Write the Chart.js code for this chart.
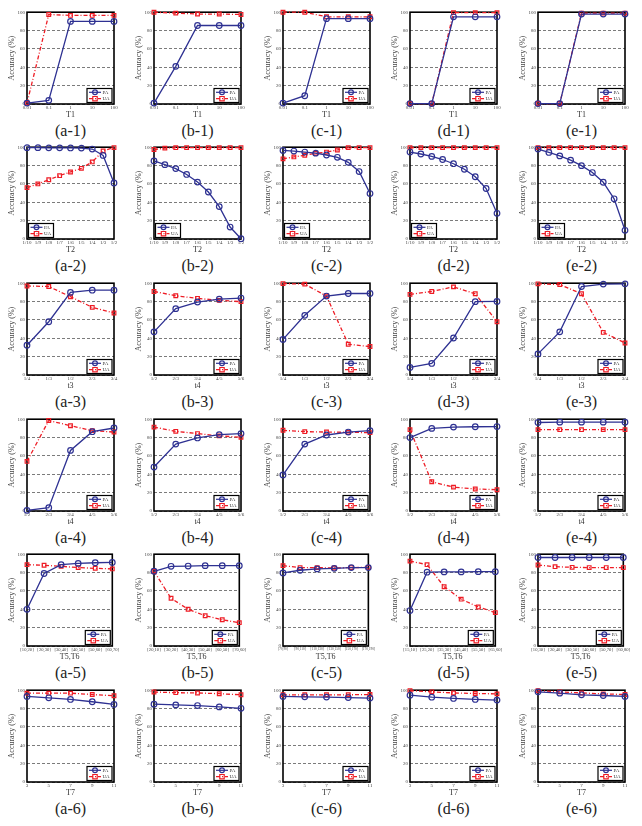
<!DOCTYPE html>
<html>
<head>
<meta charset="utf-8">
<script src="https://cdn.jsdelivr.net/npm/chart.js@4"></script>
<style>
  html, body { margin: 0; padding: 0; background: #fff; }
  body { position: relative; width: 642px; height: 826px; overflow: hidden; }
  .cell { position: absolute; }
  .cap { position: absolute; width: 100px; text-align: center; font: 16px "Liberation Serif", serif; color: #222; line-height: 18px; }
</style>
</head>
<body>
<script>
// Categories (x tick labels)
const CAT_T1 = ['0.01', '0.1', '1', '10', '100'];
const CAT_T2 = ['1/10', '1/9', '1/8', '1/7', '1/6', '1/5', '1/4', '1/3', '1/2'];
const CAT_T3 = ['1/4', '1/3', '1/2', '2/3', '3/4'];
const CAT_T4 = ['1/2', '2/3', '3/4', '4/5', '5/6'];
const CAT_T56_A = ['[10,20]', '[20,30]', '[30,40]', '[40,50]', '[50,60]', '[60,70]'];
const CAT_T56_B = ['[20,10]', '[30,20]', '[40,30]', '[50,40]', '[60,50]', '[70,60]'];
const CAT_T56_C = ['[70,90]', '[90,110]', '[110,130]', '[130,150]', '[150,170]', '[170,190]'];
const CAT_T56_D = ['[15,10]', '[25,20]', '[35,30]', '[45,40]', '[55,50]', '[65,60]'];
const CAT_T56_E = ['[10,30]', '[20,40]', '[30,50]', '[40,60]', '[50,70]', '[60,80]'];
const CAT_T7 = ['3', '5', '7', '9', '11'];

// Row 1 (T1)
const PA_A1 = [1, 4, 90, 90, 90];
const UA_A1 = [1, 97.5, 96.5, 96.5, 96.5];
const PA_B1 = [1, 41, 85.5, 85.5, 85.5];
const UA_B1 = [100, 99, 98, 98, 97.5];
const PA_C1 = [1, 9, 93, 93, 93];
const UA_C1 = [100, 100, 95, 95, 95];
const PA_D1 = [0.5, 0.5, 95, 95, 95];
const UA_D1 = [0.5, 0.5, 99.5, 99.5, 99.5];
const PA_E1 = [0.5, 0.5, 98, 98, 98];
const UA_E1 = [0.5, 0.5, 99, 99, 99];

// Row 2 (T2)
const PA_A2 = [99.5, 99.5, 99.3, 99.3, 99.2, 99, 98, 91, 61];
const UA_A2 = [56, 60, 64.5, 69, 73, 77, 84, 96, 99.6];
const PA_B2 = [85, 81, 76.7, 70.3, 62, 51.2, 35.3, 13, 0.3];
const UA_B2 = [97.5, 99, 99.5, 99.6, 99.6, 99.6, 99.6, 99.6, 99.6];
const PA_C2 = [96.5, 95.8, 94.7, 93.5, 91.5, 89, 83.5, 73.5, 49.5];
const UA_C2 = [87.3, 89.4, 91.2, 93.3, 94.7, 97, 99.6, 99.6, 99.6];
const PA_D2 = [94.7, 92.6, 90, 86.6, 82, 76, 67.8, 55, 28];
const UA_D2 = [99.6, 99.6, 99.6, 99.6, 99.6, 99.6, 99.6, 99.6, 99.6];
const PA_E2 = [98, 94.3, 90.5, 85.9, 79.9, 72.4, 61.8, 43.8, 9.5];
const UA_E2 = [99.6, 99.6, 99.6, 99.6, 99.6, 99.6, 99.6, 99.6, 99.6];

// Row 3 (t3 / t4)
const PA_A3 = [32.4, 58, 90, 92.4, 92.4];
const UA_A3 = [97, 96.4, 85.3, 73.7, 67.6];
const PA_B3 = [47, 72.3, 79.5, 82.7, 83.8];
const UA_B3 = [91, 86.3, 83.5, 81.3, 79.9];
const PA_C3 = [38.8, 65, 86, 88.8, 88.8];
const UA_C3 = [99.6, 99, 86, 33.5, 31];
const PA_D3 = [8.3, 12.6, 40.3, 79.9, 80.2];
const UA_D3 = [87.8, 91, 96, 88.5, 58];
const PA_E3 = [23, 47, 96.4, 99, 99.3];
const UA_E3 = [99.3, 98.6, 88.5, 46.4, 34.9];

// Row 4 (t4)
const PA_A4 = [0.7, 3.6, 66, 86.4, 90.4];
const UA_A4 = [54, 98.6, 92.9, 87.5, 86];
const PA_B4 = [47.9, 72.9, 79.6, 83.2, 84.3];
const UA_B4 = [91.4, 86.8, 84.3, 81.8, 80.4];
const PA_C4 = [39.3, 72.9, 82.8, 86, 87.5];
const UA_C4 = [87.9, 86.4, 86, 85.7, 85.4];
const PA_D4 = [80, 90, 91.4, 91.8, 92];
const UA_D4 = [88.6, 31.8, 26, 24, 23.2];
const PA_E4 = [96.4, 96.8, 96.8, 96.8, 96.8];
const UA_E4 = [88.6, 88.6, 88.6, 88.6, 88.6];

// Row 5 (T5,T6)
const PA_A5 = [40, 79, 88.6, 90, 90.7, 91];
const UA_A5 = [88.6, 87.9, 86.8, 85.4, 84.6, 84];
const PA_B5 = [81.4, 86.8, 87.1, 87.5, 87.5, 87.5];
const UA_B5 = [81.4, 52, 40, 33, 28.6, 25.4];
const PA_C5 = [79.6, 82.5, 84, 84.6, 85.4, 85.4];
const UA_C5 = [87.5, 85.4, 85.4, 85, 85.4, 85.7];
const PA_D5 = [38.6, 80.4, 80.7, 80.7, 81, 81];
const UA_D5 = [92.5, 88.6, 64.6, 51, 42.5, 36.4];
const PA_E5 = [96.4, 96.4, 96.4, 96.4, 96.4, 96.4];
const UA_E5 = [88.2, 86.4, 85.7, 85.4, 85.4, 85.4];

// Row 6 (T7)
const PA_A6 = [93.2, 91.7, 89.9, 87.4, 84.5];
const UA_A6 = [96.8, 96.8, 96.8, 95.3, 93.9];
const PA_B6 = [84.8, 84, 83.3, 81.8, 80.3];
const UA_B6 = [98, 97.3, 97, 96.2, 95];
const PA_C6 = [93.2, 92.8, 92.5, 92, 91.4];
const UA_C6 = [95, 95, 95, 95, 95.3];
const PA_D6 = [94.6, 92.4, 91, 89.9, 89.2];
const UA_D6 = [99.6, 98.2, 97, 96.4, 96];
const PA_E6 = [98.2, 96.8, 95, 94.2, 93.2];
const UA_E6 = [99.6, 98.2, 97, 96, 95.3];

const SERIES_NAMES = ['PA', 'UA'];
const Y_MIN = 0, Y_MAX = 100, Y_STEP = 20;

// panels, row by row
const panels = [
  ['a-1', CAT_T1, 'T1', PA_A1, UA_A1, 'br'], ['b-1', CAT_T1, 'T1', PA_B1, UA_B1, 'br'],
  ['c-1', CAT_T1, 'T1', PA_C1, UA_C1, 'br'], ['d-1', CAT_T1, 'T1', PA_D1, UA_D1, 'br'],
  ['e-1', CAT_T1, 'T1', PA_E1, UA_E1, 'br'],
  ['a-2', CAT_T2, 'T2', PA_A2, UA_A2, 'bl'], ['b-2', CAT_T2, 'T2', PA_B2, UA_B2, 'bl'],
  ['c-2', CAT_T2, 'T2', PA_C2, UA_C2, 'bl'], ['d-2', CAT_T2, 'T2', PA_D2, UA_D2, 'bl'],
  ['e-2', CAT_T2, 'T2', PA_E2, UA_E2, 'bl'],
  ['a-3', CAT_T3, 't3', PA_A3, UA_A3, 'br'], ['b-3', CAT_T4, 't4', PA_B3, UA_B3, 'br'],
  ['c-3', CAT_T3, 't3', PA_C3, UA_C3, 'br'], ['d-3', CAT_T3, 't3', PA_D3, UA_D3, 'br'],
  ['e-3', CAT_T3, 't3', PA_E3, UA_E3, 'br'],
  ['a-4', CAT_T4, 't4', PA_A4, UA_A4, 'br'], ['b-4', CAT_T4, 't4', PA_B4, UA_B4, 'br'],
  ['c-4', CAT_T4, 't4', PA_C4, UA_C4, 'br'], ['d-4', CAT_T4, 't4', PA_D4, UA_D4, 'br'],
  ['e-4', CAT_T4, 't4', PA_E4, UA_E4, 'br'],
  ['a-5', CAT_T56_A, 'T5,T6', PA_A5, UA_A5, 'br'], ['b-5', CAT_T56_B, 'T5,T6', PA_B5, UA_B5, 'br'],
  ['c-5', CAT_T56_C, 'T5,T6', PA_C5, UA_C5, 'br'], ['d-5', CAT_T56_D, 'T5,T6', PA_D5, UA_D5, 'br'],
  ['e-5', CAT_T56_E, 'T5,T6', PA_E5, UA_E5, 'br'],
  ['a-6', CAT_T7, 'T7', PA_A6, UA_A6, 'br'], ['b-6', CAT_T7, 'T7', PA_B6, UA_B6, 'br'],
  ['c-6', CAT_T7, 'T7', PA_C6, UA_C6, 'br'], ['d-6', CAT_T7, 'T7', PA_D6, UA_D6, 'br'],
  ['e-6', CAT_T7, 'T7', PA_E6, UA_E6, 'br']
];

// layout of the grid (plot area left / top edges)
const COL_X = [27, 154, 283, 410, 538];
const ROW_Y = [11, 146, 282, 418, 553, 689];
const PLOT_W = 87, PLOT_H = 93, AXIS_W = 27, AXIS_H = 16, PAD_T = 4, PAD_R = 6;

const BLUE = '#2E3192';
const RED = '#EE1C25';
const SERIF = '"Liberation Serif", "Times New Roman", serif';

// black box around the plot area
const framePlugin = {
  id: 'frame',
  beforeDatasetsDraw(chart) {
    const { ctx, chartArea: a } = chart;
    ctx.save();
    ctx.strokeStyle = '#000';
    ctx.lineWidth = 1.6;
    ctx.strokeRect(a.left, a.top, a.width, a.height);
    ctx.restore();
  }
};

// small boxed legend inside the plot
const insetLegend = {
  id: 'insetLegend',
  afterDraw(chart, args, opts) {
    const { ctx, chartArea: a } = chart;
    const w = 25, h = 14;
    const x = opts.corner === 'bl' ? a.left + 1.5 : a.right - w - 2;
    const y = a.bottom - h - 1.5;
    ctx.save();
    ctx.fillStyle = '#fff';
    ctx.fillRect(x, y, w, h);
    ctx.strokeStyle = '#000';
    ctx.lineWidth = 1.2;
    ctx.strokeRect(x, y, w, h);
    chart.data.datasets.forEach((ds, i) => {
      const cy = y + 3.8 + i * 6.4;
      ctx.strokeStyle = ds.borderColor;
      ctx.lineWidth = 1.2;
      ctx.setLineDash(ds.borderDash || []);
      ctx.beginPath();
      ctx.moveTo(x + 2, cy);
      ctx.lineTo(x + 14, cy);
      ctx.stroke();
      ctx.setLineDash([]);
      ctx.beginPath();
      if (ds.pointStyle === 'rect') {
        ctx.rect(x + 5.8, cy - 2.2, 4.4, 4.4);
      } else {
        ctx.arc(x + 8, cy, 2.4, 0, Math.PI * 2);
      }
      ctx.stroke();
      ctx.fillStyle = '#333';
      ctx.font = '5px ' + SERIF;
      ctx.textBaseline = 'middle';
      ctx.fillText(ds.label, x + 15.5, cy + 0.3);
    });
    ctx.restore();
  }
};

const makeDataset = (label, data, color, style, dash) => ({
  label: label,
  data: data,
  borderColor: color,
  borderWidth: 1.3,
  borderDash: dash,
  pointStyle: style,
  pointRadius: style === 'rect' ? 2.6 : 2.8,
  pointBorderWidth: 1.2,
  pointBorderColor: color,
  pointBackgroundColor: 'rgba(0,0,0,0)',
  tension: 0,
  clip: false
});

panels.forEach((p, idx) => {
  const [name, cats, xTitle, pa, ua, corner] = p;
  const col = idx % 5, row = Math.floor(idx / 5);
  const left = COL_X[col], top = ROW_Y[row];

  const canvas = document.createElement('canvas');
  canvas.className = 'cell';
  canvas.width = AXIS_W + PLOT_W + PAD_R;
  canvas.height = PAD_T + PLOT_H + AXIS_H;
  canvas.style.left = (left - AXIS_W) + 'px';
  canvas.style.top = (top - PAD_T) + 'px';
  canvas.style.width = canvas.width + 'px';
  canvas.style.height = canvas.height + 'px';
  document.body.appendChild(canvas);

  const cap = document.createElement('div');
  cap.className = 'cap';
  cap.textContent = '(' + name + ')';
  cap.style.left = (left + PLOT_W / 2 - 50) + 'px';
  cap.style.top = (top + 111) + 'px';
  document.body.appendChild(cap);

  const tickSize = cats.length === 6 ? (name === 'c-5' ? 3.4 : 4.6) : 5;

  new Chart(canvas, {
    type: 'line',
    data: {
      labels: cats,
      datasets: [
        makeDataset(SERIES_NAMES[0], pa, BLUE, 'circle', []),
        makeDataset(SERIES_NAMES[1], ua, RED, 'rect', [4, 2, 1, 2])
      ]
    },
    options: {
      responsive: false,
      animation: false,
      events: [],
      layout: { padding: { top: PAD_T, right: PAD_R, left: 0, bottom: 0 } },
      plugins: {
        legend: { display: false },
        tooltip: { enabled: false },
        insetLegend: { corner: corner }
      },
      scales: {
        x: {
          type: 'category',
          offset: false,
          grid: { display: false, drawTicks: false },
          border: { display: false },
          ticks: {
            autoSkip: false, maxRotation: 0, minRotation: 0, padding: 1,
            color: '#444', font: { family: SERIF, size: tickSize }
          },
          title: {
            display: true, text: xTitle, color: '#333',
            font: { family: SERIF, size: 8 }, padding: { top: 0, bottom: 0.3 }
          },
          afterFit: (s) => { s.height = AXIS_H; }
        },
        y: {
          min: Y_MIN, max: Y_MAX,
          grid: { color: '#222', lineWidth: 0.6, drawTicks: false },
          border: { display: false, dash: [3, 2] },
          ticks: {
            stepSize: Y_STEP, padding: 2, color: '#444',
            font: { family: SERIF, size: 5 }
          },
          title: {
            display: true, text: 'Accuracy (%)', color: '#444',
            font: { family: SERIF, size: 8 }, padding: { top: 7, bottom: 0 }
          },
          afterFit: (s) => { s.width = AXIS_W; }
        }
      }
    },
    plugins: [framePlugin, insetLegend]
  });
});
</script>
</body>
</html>
